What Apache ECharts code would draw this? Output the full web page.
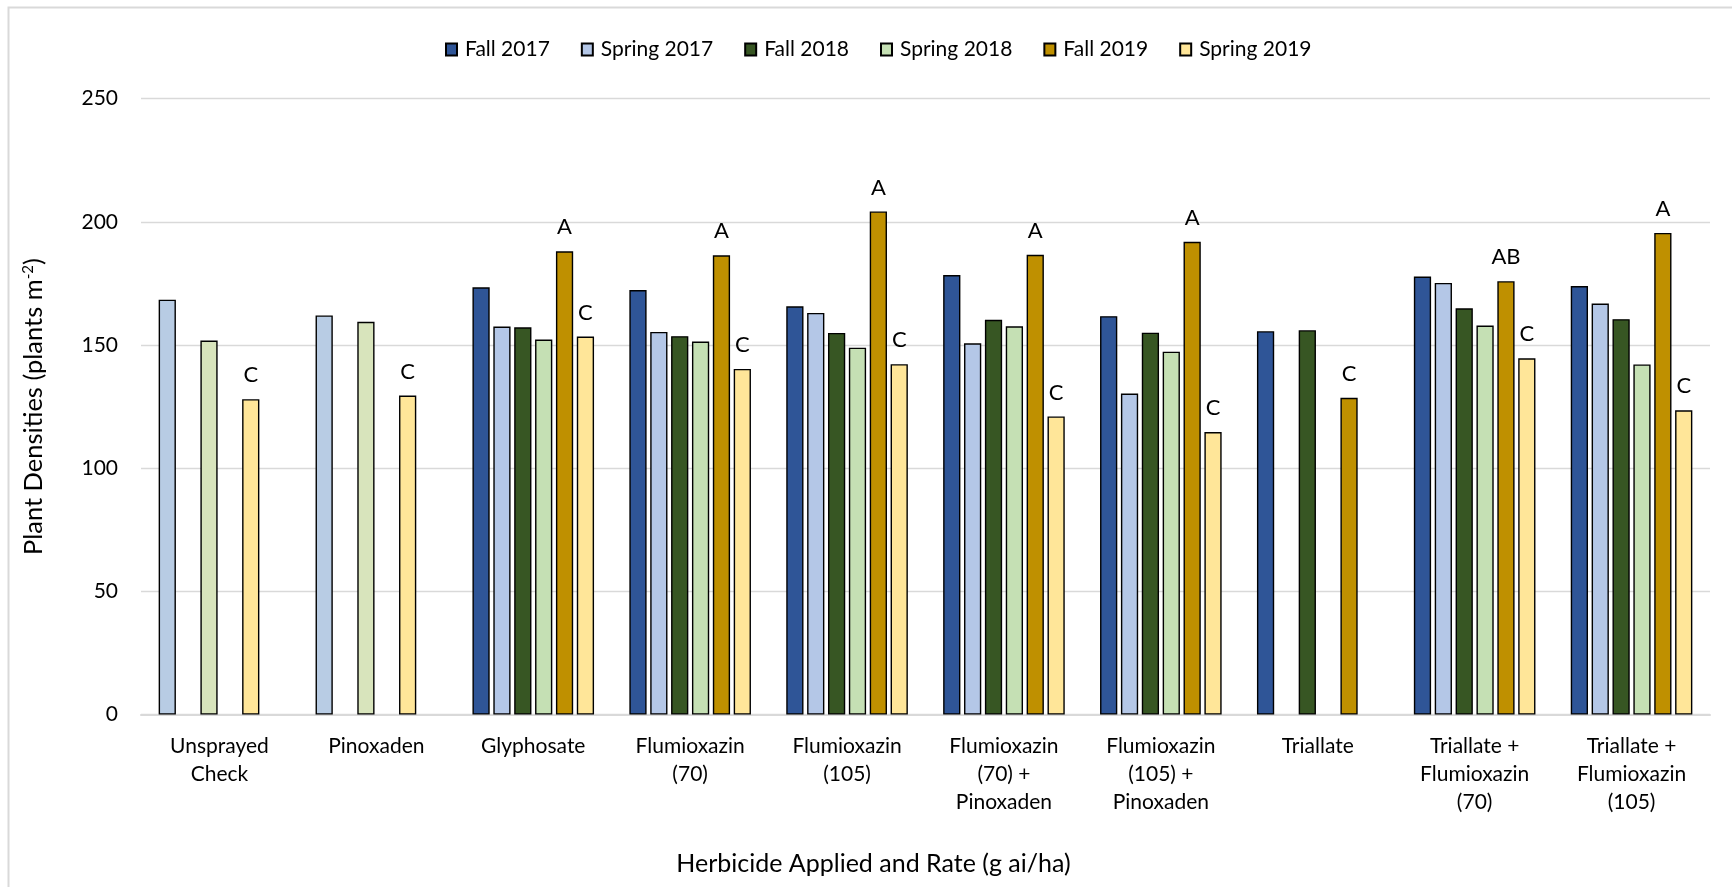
<!DOCTYPE html>
<html>
<head>
<meta charset="utf-8">
<title>Plant Densities by Herbicide</title>
<script src="https://cdn.jsdelivr.net/npm/echarts@6/dist/echarts.min.js"></script>
<style>
  html, body { margin: 0; padding: 0; background: #ffffff; }
  #chart { width: 1732px; height: 887px; }
</style>
</head>
<body>
<div id="chart"></div>
<script>
// Treatments on the category axis
const categories = [
  'Unsprayed\nCheck', 'Pinoxaden', 'Glyphosate', 'Flumioxazin\n(70)', 'Flumioxazin\n(105)',
  'Flumioxazin\n(70) +\nPinoxaden', 'Flumioxazin\n(105) +\nPinoxaden', 'Triallate',
  'Triallate +\nFlumioxazin\n(70)', 'Triallate +\nFlumioxazin\n(105)'
];

// Plant densities (plants m-2) per season; null = no bar
const fall2017   = [168.4, 162.0, 173.4, 172.3, 165.7, 178.4, 161.7, 155.6, 177.8, 173.9];
const spring2017 = [null,  null,  157.5, 155.3, 163.0, 150.7, 130.3, null,  175.2, 166.8];
const fall2018   = [151.8, 159.4, 157.2, 153.6, 154.9, 160.2, 155.0, 156.0, 164.9, 160.5];
const spring2018 = [null,  null,  152.2, 151.4, 148.9, 157.6, 147.3, null,  157.9, 142.1];
const fall2019   = [128.0, 129.5, 188.0, 186.4, 204.2, 186.6, 191.9, 128.6, 175.9, 195.5];
const spring2019 = [null,  null,  153.4, 140.3, 142.2, 121.0, 114.7, null,  144.6, 123.5];

// Mean-separation letters shown above bars
const fall2019Letters   = ['C', 'C', 'A', 'A', 'A', 'A', 'A', 'C', 'AB', 'A'];
const spring2019Letters = ['', '', 'C', 'C', 'C', 'C', 'C', '', 'C', 'C'];

// Y axis ticks
const yTicks = [0, 50, 100, 150, 200, 250];

// Untreated / Pinoxaden bars drawn with spring shading
const shadedCategories = [0, 1];
const shadeColors = { 'Fall 2017': '#B8CCE4', 'Fall 2018': '#D8E4BC', 'Fall 2019': '#FFE699' };

const FONT = 'Lato';

const seriesDefs = [
  { name: 'Fall 2017',   data: fall2017,   color: '#2F5597' },
  { name: 'Spring 2017', data: spring2017, color: '#B4C7E7' },
  { name: 'Fall 2018',   data: fall2018,   color: '#375623' },
  { name: 'Spring 2018', data: spring2018, color: '#C5E0B4' },
  { name: 'Fall 2019',   data: fall2019,   color: '#BF9000', letters: fall2019Letters },
  { name: 'Spring 2019', data: spring2019, color: '#FFE699', letters: spring2019Letters }
];

const series = seriesDefs.map(def => ({
  name: def.name,
  type: 'bar',
  barGap: '21%',
  barCategoryGap: '22.5%',
  itemStyle: { color: def.color, borderColor: '#000000', borderWidth: 1.4 },
  data: def.data.map((v, i) => {
    const item = { value: v };
    if (shadedCategories.includes(i) && shadeColors[def.name]) {
      item.itemStyle = { color: shadeColors[def.name] };
    }
    return item;
  }),
  label: def.letters ? {
    show: true,
    position: 'top',
    distance: 13,
    fontFamily: FONT,
    fontSize: 22,
    color: '#000000',
    formatter: p => def.letters[p.dataIndex] || ''
  } : { show: false }
}));

const chart = echarts.init(document.getElementById('chart'), null, { renderer: 'canvas' });

chart.setOption({
  backgroundColor: '#ffffff',
  animation: false,
  textStyle: { fontFamily: FONT },
  graphic: [{
    type: 'rect',
    shape: { x: 8.5, y: 7.5, width: 1800, height: 1000 },
    style: { fill: 'none', stroke: '#D9D9D9', lineWidth: 2 },
    silent: true
  }],
  legend: {
    left: 440,
    top: 34,
    itemWidth: 11,
    itemHeight: 12,
    itemGap: 31,
    icon: 'rect',
    textStyle: { fontFamily: FONT, fontSize: 21, color: '#000000', padding: [0, 0, 0, 3] },
    data: seriesDefs.map(d => d.name)
  },
  grid: { left: 141, right: 22, top: 98.6, bottom: 172.4, containLabel: false },
  xAxis: {
    type: 'category',
    data: categories,
    axisTick: { show: false },
    axisLine: { lineStyle: { color: '#D9D9D9', width: 2 } },
    axisLabel: {
      interval: 0,
      margin: 18,
      fontFamily: FONT,
      fontSize: 21,
      lineHeight: 28,
      color: '#000000'
    },
    name: 'Herbicide Applied and Rate (g ai/ha)',
    nameLocation: 'middle',
    nameGap: 137,
    nameTextStyle: { fontFamily: FONT, fontSize: 25, color: '#000000', padding: [0, 104, 0, 0] }
  },
  yAxis: {
    type: 'value',
    min: yTicks[0],
    max: yTicks[yTicks.length - 1],
    interval: yTicks[1] - yTicks[0],
    axisLine: { show: false },
    axisTick: { show: false },
    splitLine: { lineStyle: { color: '#D9D9D9', width: 1.3 } },
    axisLabel: { margin: 23, fontFamily: FONT, fontSize: 21, color: '#000000' },
    name: '{t|Plant Densities (plants m}{s|-2}{t|)}',
    nameLocation: 'middle',
    nameGap: 94,
    nameTextStyle: {
      rich: {
        t: { fontFamily: FONT, fontSize: 25.5, color: '#000000' },
        s: { fontFamily: FONT, fontSize: 15, color: '#000000', verticalAlign: 'top', padding: [0, 0, 10, 0] }
      }
    }
  },
  series: series
});
</script>
</body>
</html>
